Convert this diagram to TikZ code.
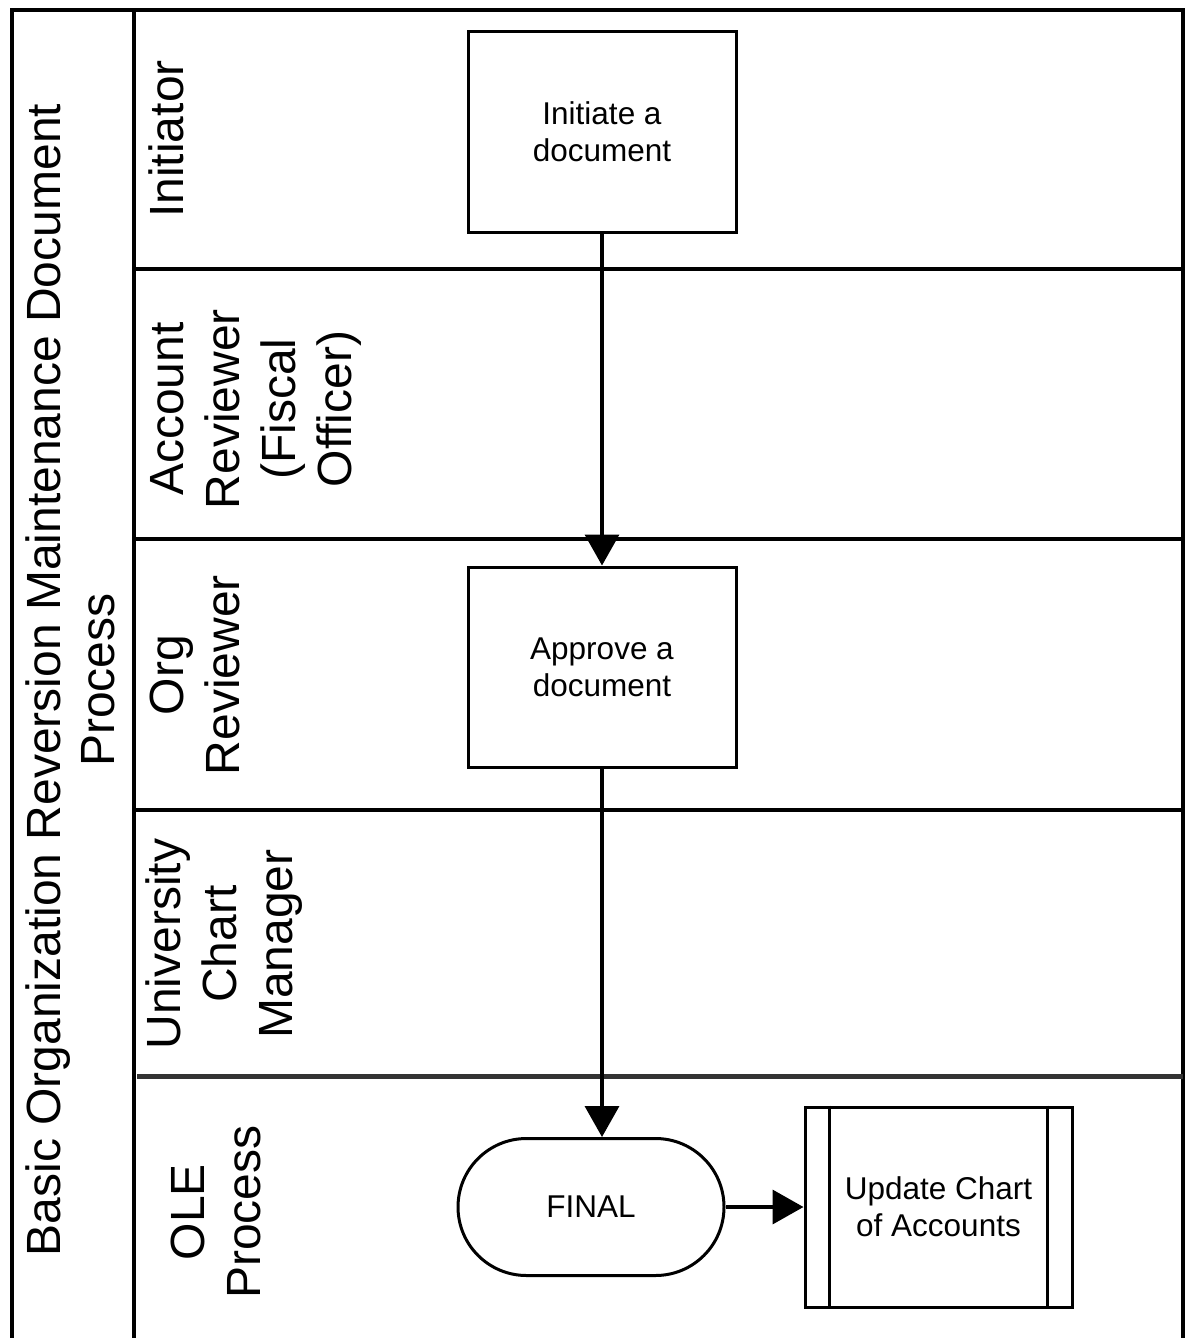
\documentclass[tikz,border=0pt]{standalone}
\usepackage{fontspec}
\setmainfont{Liberation Sans}
\usetikzlibrary{arrows.meta,shapes.misc,calc}
\begin{document}
\begin{tikzpicture}[x=1pt,y=-1pt,
  frame/.style={line width=3.6pt,line cap=rect},
  lanelabel/.style={rotate=90,anchor=north,inner sep=0pt,align=center,
    font=\fontsize{48}{56}\selectfont},
  titlelabel/.style={rotate=90,inner sep=0pt,align=center,
    font=\fontsize{48}{54}\selectfont},
  task/.style={draw,line width=3pt,minimum width=268pt,minimum height=200pt,
    inner sep=0pt,align=center,font=\fontsize{31.5}{37}\selectfont},
  terminal/.style={draw,line width=3pt,rounded rectangle,minimum width=266pt,
    minimum height=137pt,inner sep=0pt,font=\fontsize{31.5}{37}\selectfont},
  flow/.style={line width=3.6pt,-{Triangle[width=34pt,length=31pt]}}
]
\useasboundingbox (0,0) rectangle (1190,1338);
\begin{scope}
\clip (0,0) rectangle (1190,1338);
% outer frame and title column
\draw[frame] (12,1345) -- (12,10) -- (1183,10) -- (1183,1345);
\draw[frame] (134,10) -- (134,1345);
% lane dividers
\draw[frame] (134,269) -- (1183,269);
\draw[frame] (134,539) -- (1183,539);
\draw[frame] (134,810) -- (1183,810);
\draw[line width=5pt,black!80] (137,1076) -- (1183,1076);
\end{scope}
% title
\node[titlelabel] (title) at (70,680) {Basic Organization Reversion Maintenance Document\\Process};
% lane labels
\node[lanelabel] (l1) at (149,139) {Initiator};
\node[lanelabel] (l2) at (150,409) {Account\\Reviewer\\(Fiscal\\Officer)};
\node[lanelabel] (l3) at (150,675) {Org\\Reviewer};
\node[lanelabel] (l4) at (146,944) {University\\Chart\\Manager};
\node[lanelabel] (l5) at (171,1212) {OLE\\Process};
% shapes
\node[task] (init) at (602,132) {Initiate a\\document};
\node[task] (appr) at (602,667) {Approve a\\document};
\node[terminal] (final) at (591,1207) {FINAL};
\node[task,minimum width=267pt] (upd) at (938.5,1207) {Update Chart\\of Accounts};
\draw[line width=3pt] ($(upd.north west)+(26,0)$) -- ($(upd.south west)+(26,0)$);
\draw[line width=3pt] ($(upd.north east)+(-26,0)$) -- ($(upd.south east)+(-26,0)$);
% connectors
\draw[flow] (init.south) -- (appr.north);
\draw[flow] (appr.south) -- (appr.south |- final.north);
\draw[flow] (final.east) -- (upd.west);
\end{tikzpicture}
\end{document}
